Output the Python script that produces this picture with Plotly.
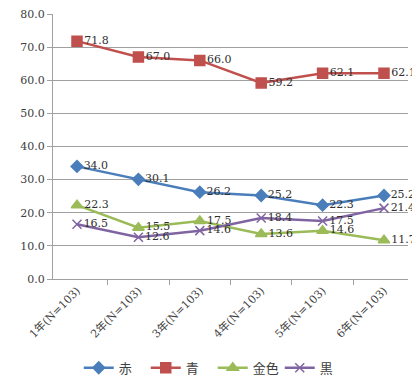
import plotly.graph_objects as go

categories = ["1年(N=103)", "2年(N=103)", "3年(N=103)", "4年(N=103)", "5年(N=103)", "6年(N=103)"]
series_names = ["赤", "青", "金色", "黒"]
aka = [34.0, 30.1, 26.2, 25.2, 22.3, 25.2]
ao = [71.8, 67.0, 66.0, 59.2, 62.1, 62.1]
kiniro = [22.3, 15.5, 17.5, 13.6, 14.6, 11.7]
kuro = [16.5, 12.6, 14.6, 18.4, 17.5, 21.4]
y_ticks = [0, 10, 20, 30, 40, 50, 60, 70, 80]

colors = ["#4A7EBB", "#C0504D", "#9BBB59", "#8064A2"]
symbols = ["diamond", "square", "triangle-up", "x-thin"]
sizes = [9, 10, 10, 9]
FONT = "'DejaVu Serif', 'Noto Sans CJK JP', serif"

fig = go.Figure()
for name, vals, c, s, sz in zip(series_names, [aka, ao, kiniro, kuro], colors, symbols, sizes):
    fig.add_trace(go.Scatter(
        x=categories, y=vals, name=name, mode="lines+markers+text",
        line=dict(color=c, width=2.5),
        marker=dict(symbol=s, size=sz, color=c, line=dict(color=c, width=1.5)),
        text=[f"{v:.1f}" for v in vals], textposition="middle right",
        textfont=dict(family=FONT, size=11, color="#303030"),
        cliponaxis=False,
    ))

fig.update_layout(
    width=412, height=375,
    margin=dict(l=45, r=12, t=6, b=104, autoexpand=False),
    plot_bgcolor="white", paper_bgcolor="white",
    font=dict(family=FONT, size=11, color="#404040"),
    showlegend=True,
    legend=dict(orientation="h", x=0.45, xanchor="center", y=-0.335, yanchor="middle",
                font=dict(family=FONT, size=13, color="#404040"),
                entrywidth=22, entrywidthmode="pixels",
                traceorder="normal", tracegroupgap=0),
)
fig.update_xaxes(
    type="category", tickangle=-45, tickson="boundaries", ticks="outside", ticklen=5,
    tickcolor="#A0A0A0", showline=True, linecolor="#A0A0A0", linewidth=1,
    showgrid=False, tickfont=dict(family=FONT, size=11, color="#404040"), automargin=False,
)
fig.update_yaxes(
    range=[0, 80], tickvals=y_ticks, ticktext=[f"{v:.1f}" for v in y_ticks],
    ticks="outside", ticklen=5, tickcolor="#A0A0A0",
    showline=True, linecolor="#A0A0A0", linewidth=1,
    showgrid=True, gridcolor="#A0A0A0", gridwidth=1, zeroline=False,
    tickfont=dict(family=FONT, size=11, color="#404040"), automargin=False,
    ticklabeloverflow="allow",
)
fig.write_html("out.html")
